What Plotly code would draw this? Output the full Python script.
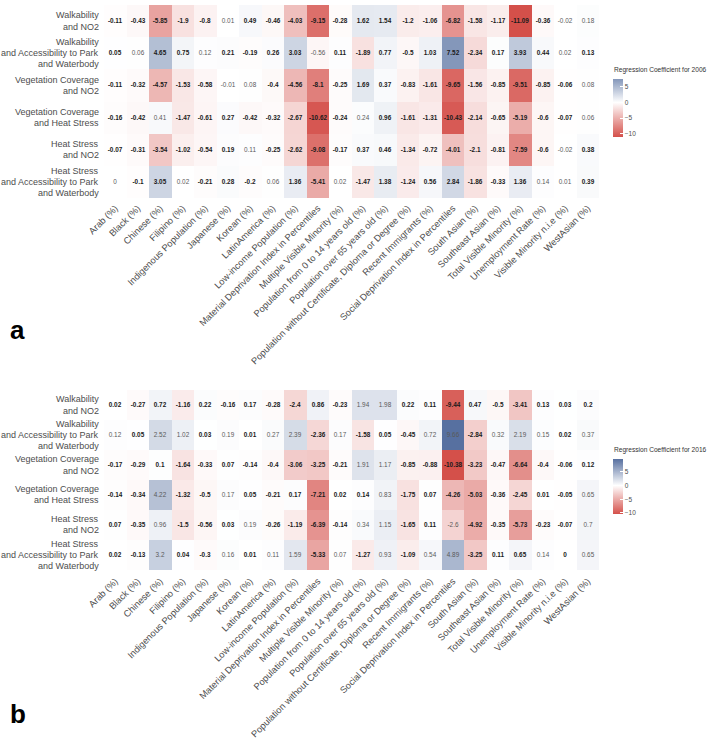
import plotly.graph_objects as go

# x categories (socio-demographic variables)
variables = [
    "Arab (%)", "Black (%)", "Chinese (%)", "Filipino (%)",
    "Indigenous Population (%)", "Japanese (%)", "Korean (%)",
    "LatinAmerica (%)", "Low-income Population (%)",
    "Material Deprivation Index in Percentiles",
    "Multiple Visible Minority (%)", "Population from 0 to 14 years old (%)",
    "Population over 65 years old (%)",
    "Population without Certificate, Diploma or Degree (%)",
    "Recent Immigrants (%)", "Social Deprivation Index in Percentiles",
    "South Asian (%)", "Southeast Asian (%)", "Total Visible Minority (%)",
    "Unemployment Rate (%)", "Visible Minority n.i.e (%)", "WestAsian (%)",
]

# y categories (environmental combinations), one list of lines per row
combos = [
    ["Walkability", "and NO2"],
    ["Walkability", "and Accessibility to Park", "and Waterbody"],
    ["Vegetation Coverage", "and NO2"],
    ["Vegetation Coverage", "and Heat Stress"],
    ["Heat Stress", "and NO2"],
    ["Heat Stress", "and Accessibility to Park", "and Waterbody"],
]

coef_2006 = [
    [-0.11, -0.43, -5.85, -1.9, -0.8, 0.01, 0.49, -0.46, -4.03, -9.15, -0.28, 1.62, 1.54, -1.2, -1.06, -6.82, -1.58, -1.17, -11.09, -0.36, -0.02, 0.18],
    [0.05, 0.06, 4.65, 0.75, 0.12, 0.21, -0.19, 0.26, 3.03, -0.56, 0.11, -1.89, 0.77, -0.5, 1.03, 7.52, -2.34, 0.17, 3.93, 0.44, 0.02, 0.13],
    [-0.11, -0.32, -4.57, -1.53, -0.58, -0.01, 0.08, -0.4, -4.56, -8.1, -0.25, 1.69, 0.37, -0.83, -1.61, -9.65, -1.56, -0.85, -9.51, -0.85, -0.06, 0.08],
    [-0.16, -0.42, 0.41, -1.47, -0.61, 0.27, -0.42, -0.32, -2.67, -10.62, -0.24, 0.24, 0.96, -1.61, -1.31, -10.43, -2.14, -0.65, -5.19, -0.6, -0.07, 0.06],
    [-0.07, -0.31, -3.54, -1.02, -0.54, 0.19, 0.11, -0.25, -2.62, -9.08, -0.17, 0.37, 0.46, -1.34, -0.72, -4.01, -2.1, -0.81, -7.59, -0.6, -0.02, 0.38],
    [0, -0.1, 3.05, 0.02, -0.21, 0.28, -0.2, 0.06, 1.36, -5.41, 0.02, -1.47, 1.38, -1.24, 0.56, 2.84, -1.86, -0.33, 1.36, 0.14, 0.01, 0.39],
]
# 1 = significant (bold label)
sig_2006 = [
    "1111101111111111111100",
    "1011011110111111111101",
    "1111100111111111111110",
    "1101111111101111111110",
    "1111110111111111111101",
    "0110111011011111111001",
]

coef_2016 = [
    [0.02, -0.27, 0.72, -1.16, 0.22, -0.16, 0.17, -0.28, -2.4, 0.86, -0.23, 1.94, 1.98, 0.22, 0.11, -9.44, 0.47, -0.5, -3.41, 0.13, 0.03, 0.2],
    [0.12, 0.05, 2.52, 1.02, 0.03, 0.19, 0.01, 0.27, 2.39, -2.36, 0.17, -1.58, 0.05, -0.45, 0.72, 9.66, -2.84, 0.32, 2.19, 0.15, 0.02, 0.37],
    [-0.17, -0.29, 0.1, -1.64, -0.33, 0.07, -0.14, -0.4, -3.06, -3.25, -0.21, 1.91, 1.17, -0.85, -0.88, -10.38, -3.23, -0.47, -6.64, -0.4, -0.06, 0.12],
    [-0.14, -0.34, 4.22, -1.32, -0.5, 0.17, 0.05, -0.21, 0.17, -7.21, 0.02, 0.14, 0.83, -1.75, 0.07, -4.26, -5.03, -0.36, -2.45, 0.01, -0.05, 0.65],
    [0.07, -0.35, 0.96, -1.5, -0.56, 0.03, 0.19, -0.26, -1.19, -6.39, -0.14, 0.34, 1.15, -1.65, 0.11, -2.6, -4.92, -0.35, -5.73, -0.23, -0.07, 0.7],
    [0.02, -0.13, 3.2, 0.04, -0.3, 0.16, 0.01, 0.11, 1.59, -5.33, 0.07, -1.27, 0.93, -1.09, 0.54, 4.89, -3.25, 0.11, 0.65, 0.14, 0, 0.65],
]
sig_2016 = [
    "1111111111100111111111",
    "0100101001011100100010",
    "1111111111100111111111",
    "1101101111110111111110",
    "1101110111100110111110",
    "1101101001010100111010",
]

W, H = 709, 740
RED = (212, 80, 74)
BLUE = (74, 101, 153)


def blend(c, t):
    r, g, b = [round(255 + (x - 255) * t) for x in c]
    return f"rgb({r},{g},{b})"


def make_scale(z):
    # gradient2-like: white at 0, both sides scaled by the largest |value|
    flat = [v for row in z for v in row]
    lo, hi = min(flat), max(flat)
    m = max(-lo, hi)
    f0 = -lo / (hi - lo)
    return lo, hi, [[0, blend(RED, -lo / m)], [f0, "rgb(255,255,255)"], [1, blend(BLUE, hi / m)]]


def labels(z, sig):
    out = []
    for row, s in zip(z, sig):
        r = []
        for v, f in zip(row, s):
            t = f"{v:g}"
            r.append(f"<b>{t}</b>" if f == "1" else f"<span style='color:#5a5a5a'>{t}</span>")
        out.append(r)
    return out


fig = go.Figure()
row_keys = [str(i) for i in range(len(combos))]
annotations = []

panels = [
    (coef_2006, sig_2006, "2006", "x", "y", (79, 137)),
    (coef_2016, sig_2016, "2016", "x2", "y2", (459, 514)),
]

x0, x1 = 104 / W, 599 / W

for z, sig, yr, xa, ya, (ct, cb) in panels:
    lo, hi, cs = make_scale(z)
    fig.add_trace(go.Heatmap(
        z=z, x=variables, y=row_keys, xaxis=xa, yaxis=ya,
        zmin=lo, zmax=hi, colorscale=cs,
        text=labels(z, sig), texttemplate="%{text}",
        textfont=dict(size=6.4, color="#1a1a1a", family="Liberation Sans"),
        colorbar=dict(
            x=613 / W, xanchor="left", y=1 - (ct + cb) / 2 / H, yanchor="middle",
            len=cb - ct, lenmode="pixels", thickness=10, outlinewidth=0,
            xpad=0, ypad=0,
            tickvals=[-10, -5, 0, 5], ticks="inside", ticklen=3, tickcolor="white",
            tickfont=dict(size=6.5, color="#4d4d4d"),
        ),
        hoverongaps=False,
    ))
    # colour bar title
    annotations.append(dict(
        text=f"Regression Coefficient for {yr}", x=612 / W, y=1 - (ct - 3) / H,
        xref="paper", yref="paper", showarrow=False, xanchor="left", yanchor="bottom",
        font=dict(size=6.6, color="#333"),
    ))
    # row labels, one annotation per line for tight line spacing
    for key, lines in zip(row_keys, combos):
        n = len(lines)
        for k, line in enumerate(lines):
            annotations.append(dict(
                text=line, x=x0, y=key, xref="paper", yref=ya, showarrow=False,
                xanchor="right", yanchor="middle", xshift=-3,
                yshift=((n - 1) / 2 - k) * 11.2,
                font=dict(size=9, color="#4d4d4d"),
            ))

annotations += [
    dict(text="<b>a</b>", x=8 / W, y=1 - 330 / H, xref="paper", yref="paper",
         showarrow=False, xanchor="left", yanchor="middle",
         font=dict(size=26, color="black")),
    dict(text="<b>b</b>", x=8 / W, y=1 - 714 / H, xref="paper", yref="paper",
         showarrow=False, xanchor="left", yanchor="middle",
         font=dict(size=26, color="black")),
]

axis_x = dict(tickangle=-45, tickfont=dict(size=9.3, color="#4d4d4d"),
              showgrid=False, zeroline=False, ticks="", domain=[x0, x1],
              automargin=False)
axis_y = dict(autorange="reversed", showticklabels=False,
              showgrid=False, zeroline=False, ticks="", automargin=False)

fig.update_layout(
    width=W, height=H,
    margin=dict(l=0, r=0, t=0, b=0, autoexpand=False),
    paper_bgcolor="white", plot_bgcolor="white",
    font=dict(family="Liberation Sans, Arial, sans-serif"),
    xaxis=dict(axis_x, anchor="y"),
    xaxis2=dict(axis_x, anchor="y2"),
    yaxis=dict(axis_y, anchor="x", domain=[1 - 200 / H, 1 - 5 / H]),
    yaxis2=dict(axis_y, anchor="x2", domain=[1 - 573 / H, 1 - 390 / H]),
    annotations=annotations,
)

# drop the default page margin so the figure sits at the window's corner
fig.write_html("out.html", config={"displayModeBar": False},
               post_script="document.body.style.margin='0';")
